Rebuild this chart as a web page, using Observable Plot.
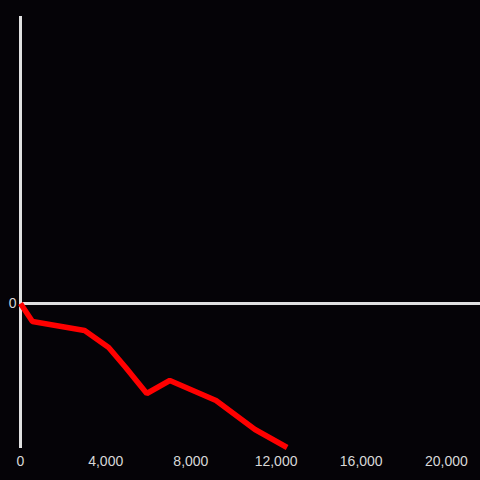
<!DOCTYPE html>
<html>
<head>
<meta charset="utf-8">
<script src="https://cdn.jsdelivr.net/npm/d3@7"></script>
<script src="https://cdn.jsdelivr.net/npm/@observablehq/plot@0.6"></script>
<style>
  html, body { margin: 0; padding: 0; background: #050307; }
</style>
</head>
<body>
<div id="chart"></div>
<script>
const xValues = [0, 560, 3010, 4140, 4940, 5930, 7010, 9180, 11010, 12520];
const yValues = [0, -18, -27, -44, -64, -90, -77, -97, -126, -144];
const xTicks = [0, 4000, 8000, 12000, 16000, 20000];
const yTicks = [0];
const xDomain = [0, 21600];
const yDomain = [-145, 287];

const data = xValues.map((x, i) => ({x, y: yValues[i]}));
const fmt = d => d.toLocaleString("en-US");

const chart = Plot.plot({
  width: 480,
  height: 480,
  marginLeft: 20,
  marginRight: 0,
  marginTop: 16,
  marginBottom: 32,
  style: {background: "#050307", color: "#d8d8d8", fontFamily: "Liberation Sans, Arial, sans-serif"},
  x: {domain: xDomain},
  y: {domain: yDomain},
  marks: [
    Plot.axisX({ticks: xTicks, tickFormat: fmt, tickSize: 0, tickPadding: 8, label: null, fontSize: 14, fill: "#d8d8d8"}),
    Plot.axisY({ticks: yTicks, tickFormat: fmt, tickSize: 0, tickPadding: 4, label: null, fontSize: 14, fill: "#d8d8d8"}),
    Plot.ruleX([0], {y1: yDomain[0], y2: yDomain[1], stroke: "#e0e0e0", strokeWidth: 3}),
    Plot.ruleY([0], {stroke: "#e0e0e0", strokeWidth: 3}),
    Plot.line(data, {x: "x", y: "y", stroke: "#ff0000", strokeWidth: 5.5, strokeLinejoin: "miter", strokeLinecap: "butt"})
  ]
});
document.getElementById("chart").appendChild(chart);
</script>
</body>
</html>
